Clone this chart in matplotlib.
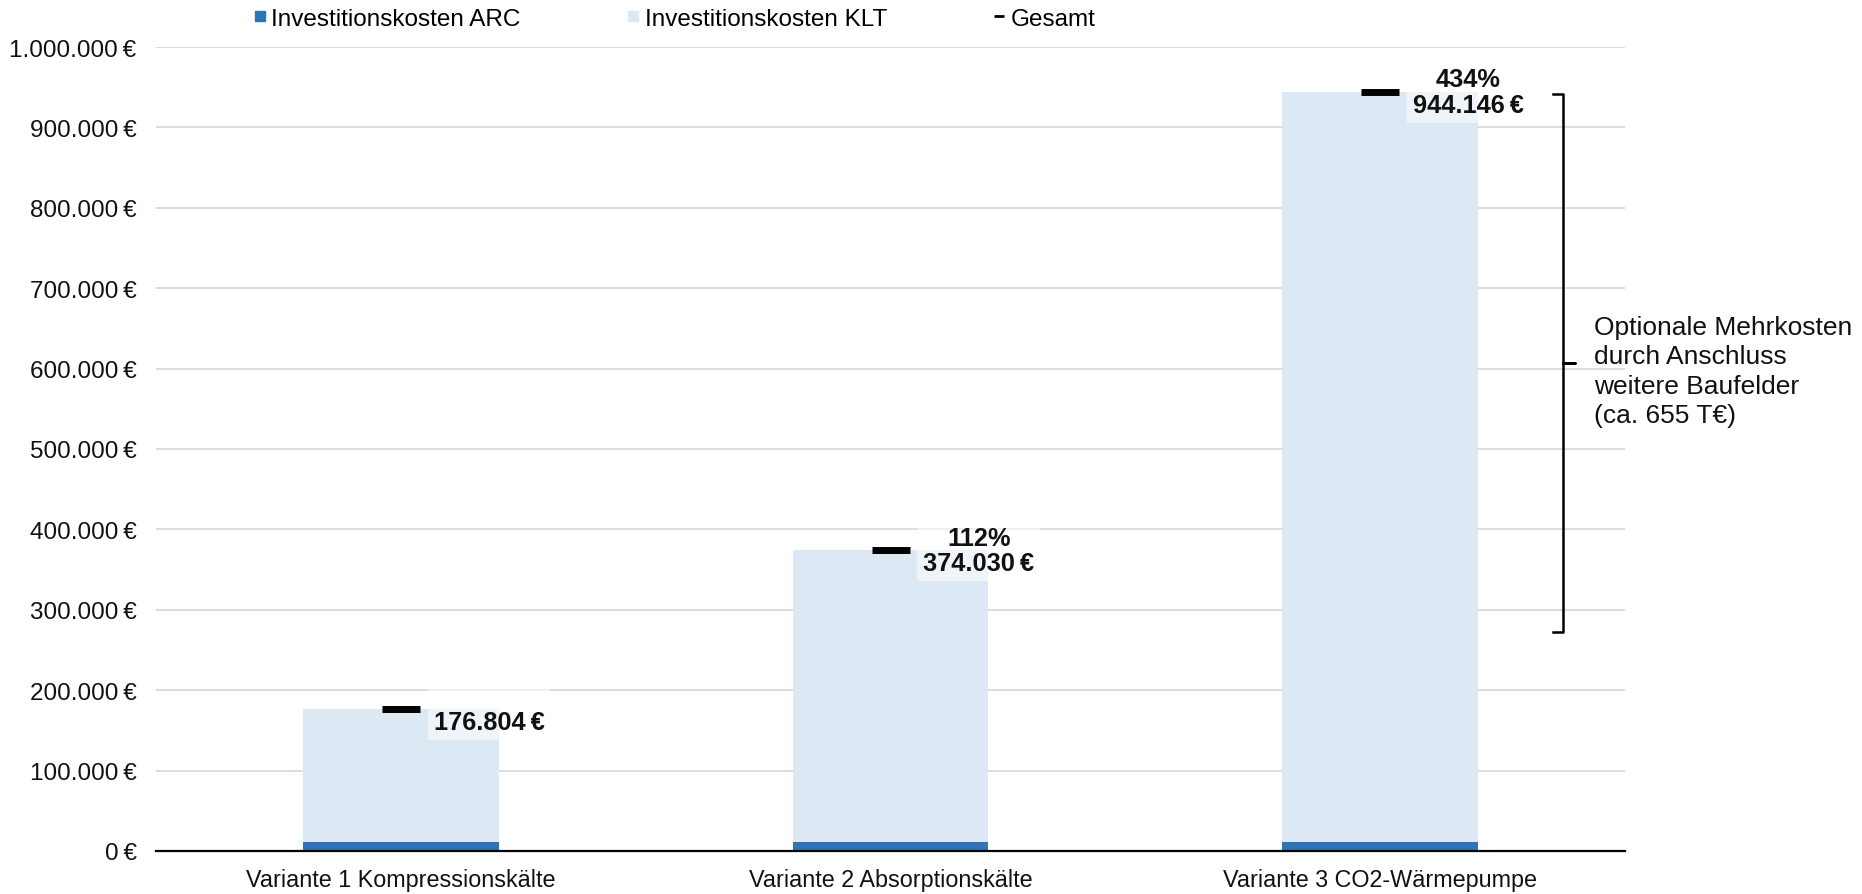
import matplotlib
matplotlib.use("Agg")
import matplotlib.pyplot as plt
from matplotlib.lines import Line2D
from matplotlib.ticker import FuncFormatter
import numpy as np

plt.rcParams['font.family'] = ['Liberation Sans', 'DejaVu Sans']

# --- data -------------------------------------------------------------
categories = ["Variante 1 Kompressionskälte",
              "Variante 2 Absorptionskälte",
              "Variante 3 CO2-Wärmepumpe"]
arc = np.array([11500, 11500, 11500])            # Investitionskosten ARC
gesamt = np.array([176804, 374030, 944146])      # Gesamt
klt = gesamt - arc                               # Investitionskosten KLT
series_labels = ["Investitionskosten ARC", "Investitionskosten KLT", "Gesamt"]
note = "Optionale Mehrkosten\ndurch Anschluss\nweitere Baufelder\n(ca. 655 T€)"
brace_top, brace_bottom = 942000, 272000

C_ARC = "#2E75B6"
C_KLT = "#DDE8F5"


def eur(v):
    return f"{v:,.0f}".replace(",", ".") + "\u2009€"


fig = plt.figure(figsize=(18.62, 8.95), dpi=100)
ax = fig.add_axes([156 / 1862, 1 - 852 / 895, (1625 - 156) / 1862, (852 - 48) / 895])

x = np.arange(len(categories))
ax.bar(x, arc, width=0.4, color=C_ARC, zorder=2)
ax.bar(x, klt, bottom=arc, width=0.4, color=C_KLT, zorder=2)
ax.plot(x, gesamt, ls="none", marker="_", ms=27.5, mew=5, color="black", zorder=4)

ax.set_xlim(-0.5, 2.5)
ax.set_ylim(0, 1_000_000)
ax.set_yticks(np.arange(0, 1_000_001, 100_000))
ax.yaxis.set_major_formatter(FuncFormatter(lambda v, p: eur(v)))
ax.set_xticks(x)
ax.set_xticklabels(categories)
ax.grid(axis="y", color="#D9D9D9", lw=1.3, zorder=0)
ax.set_axisbelow(True)
for s in ("top", "right", "left"):
    ax.spines[s].set_visible(False)
ax.spines["bottom"].set_color("black")
ax.spines["bottom"].set_linewidth(1.6)
ax.spines["bottom"].set_zorder(3)
ax.tick_params(axis="y", length=0, pad=14, labelsize=17.5, labelcolor="#111111")
ax.tick_params(axis="x", length=0, pad=12, labelsize=16.8, labelcolor="#111111")

# value labels: percentage increase over variant 1 and total
for i, g in enumerate(gesamt):
    pct = "" if i == 0 else f"{round((g / gesamt[0] - 1) * 100)}%"
    ax.text(i + 0.067, g, f"{pct}\n{eur(g)}", ha="left", va="center", ma="center",
            fontsize=18.3, fontweight="bold", linespacing=1.08, color="#111111",
            bbox=dict(boxstyle="square,pad=0.24", fc="white", ec="none", alpha=0.55),
            zorder=5)

# curly brace marking the optional extra costs
xb = 2.373
mid = (brace_top + brace_bottom) / 2
ax.plot([xb - 0.02, xb, xb, xb + 0.025, xb, xb, xb - 0.02],
        [brace_top, brace_top, mid, mid, mid, brace_bottom, brace_bottom],
        color="black", lw=1.8, solid_joinstyle="round", clip_on=False, zorder=5)
ax.text(2.437, mid - 10000, note, ha="left", va="center", fontsize=19,
        linespacing=1.29, color="#111111", clip_on=False)

# legend
handles = [Line2D([], [], ls="none", marker="s", ms=6.5, color=C_ARC),
           Line2D([], [], ls="none", marker="s", ms=6.5, color=C_KLT),
           Line2D([], [], ls="none", marker="_", ms=6.5, mew=2, color="black")]
fig.legend(handles, series_labels, loc="center", bbox_to_anchor=(0.3625, 0.978),
           ncol=3, frameon=False, fontsize=17.5, handlelength=0.45, handletextpad=0.25,
           columnspacing=4.4)

fig.savefig("out.png", dpi=100)
